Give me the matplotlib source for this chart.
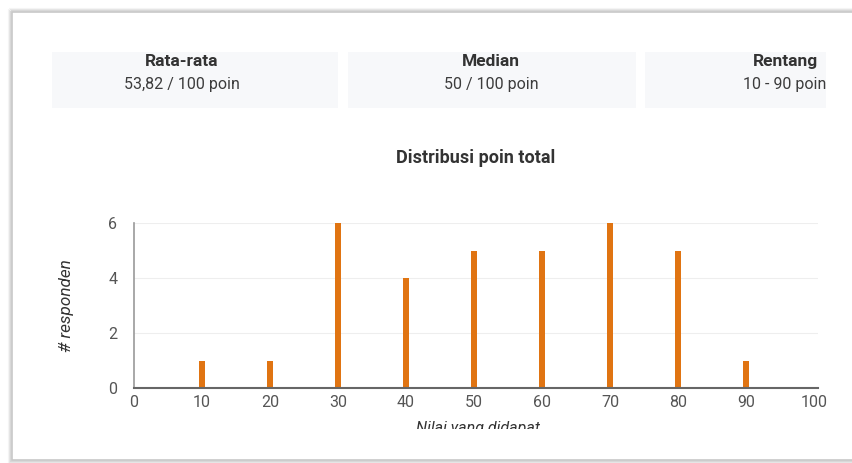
import matplotlib
matplotlib.use("Agg")
import matplotlib.pyplot as plt
from matplotlib.patches import Rectangle
from matplotlib.transforms import Bbox

# ---- data ----
scores = [10, 20, 30, 40, 50, 60, 70, 80, 90]
counts = [1, 1, 6, 4, 5, 5, 6, 5, 1]
x_ticks = [0, 10, 20, 30, 40, 50, 60, 70, 80, 90, 100]
y_ticks = [0, 2, 4, 6]
stat_titles = ["Rata-rata", "Median", "Rentang"]
stat_values = ["53,82 / 100 poin", "50 / 100 poin", "10 - 90 poin"]
chart_title = "Distribusi poin total"
x_label = "Nilai yang didapat"
y_label = "# responden"

W, H = 852, 463
plt.rcParams['font.family'] = ['Roboto', 'DejaVu Sans']
fig = plt.figure(figsize=(W / 100, H / 100), dpi=100)
fig.patch.set_facecolor("white")

def fx(px):
    return px / W

def fy(py):
    return 1 - py / H

# card frame with soft shadow
bg = fig.add_axes([0, 0, 1, 1])
bg.set_xlim(0, W)
bg.set_ylim(H, 0)
bg.axis("off")
for off, a in [(3, 0.08), (2, 0.12), (1, 0.2)]:
    bg.add_patch(Rectangle((12 - off, 12 - off), W + 20, 448 + 2 * off,
                           facecolor="none", edgecolor=(0.5, 0.5, 0.5, a), lw=1.5))
bg.add_patch(Rectangle((12, 12), W + 20, 448, facecolor="white",
                       edgecolor="#c8c8c8", lw=1.2))

# stat boxes
boxes = [(52, 338), (348, 636), (645, 826)]
centers = [182, 491, 785]
for (x0, x1), c, t, v in zip(boxes, centers, stat_titles, stat_values):
    bg.add_patch(Rectangle((x0, 52), x1 - x0, 56, facecolor="#f7f8fa", edgecolor="none"))
    bg.text(c, 61.5, t, ha="center", va="center", fontsize=12.5, fontweight="bold",
            color="#333333")
    bg.text(c, 84.5, v, ha="center", va="center", fontsize=11.5, color="#3c3c3c")

bg.text(476, 158, chart_title, ha="center", va="center", fontsize=13,
        fontweight="bold", color="#333333")

# main axes
x0p, x1p, y0p, y1p = 134, 818, 388, 223
ax = fig.add_axes([fx(x0p), fy(y0p), fx(x1p) - fx(x0p), fy(y1p) - fy(y0p)])
ax.set_facecolor("none")
ax.bar(scores, counts, width=0.9, color="#e07412", zorder=3)
ax.set_xlim(0, 100.6)
ax.set_ylim(0, 6)
ax.set_xticks(x_ticks)
ax.set_yticks(y_ticks)
ax.tick_params(length=0, labelsize=11.5, colors="#555555", pad=5)
ax.tick_params(axis="y", pad=12)
ax.grid(axis="y", color="#eeeeee", lw=0.8, zorder=0)
for s in ["top", "right"]:
    ax.spines[s].set_visible(False)
ax.spines["left"].set_color("#999999")
ax.spines["left"].set_linewidth(1.2)
ax.spines["bottom"].set_color("#666666")
ax.spines["bottom"].set_linewidth(1.5)
ax.spines["bottom"].set_zorder(4)

bg.text(67, 306, y_label, ha="center", va="center", rotation=90, fontsize=12.3,
        fontstyle="italic", color="#333333")
xl = bg.text(478, 428, x_label, ha="center", va="center", fontsize=11.5,
             fontstyle="italic", color="#333333")
clip = Bbox.from_extents(0, fy(428.5) * H, W, H)
xl.set_clip_box(clip)
xl.set_clip_on(True)

fig.savefig("out.png", dpi=100, facecolor="white")
